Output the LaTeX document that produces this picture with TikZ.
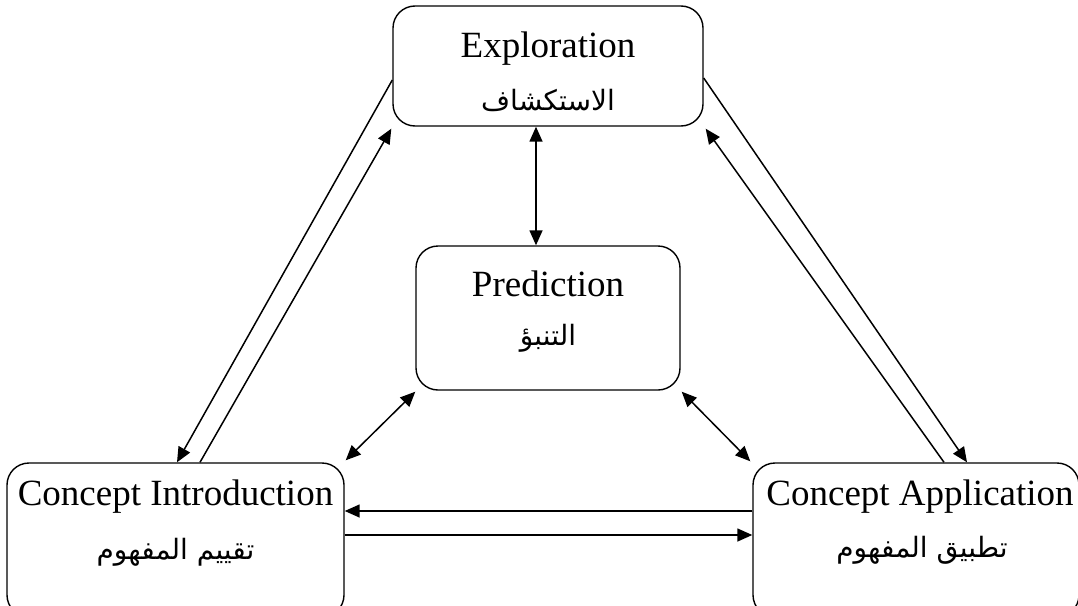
\documentclass[tikz,border=0pt]{standalone}
\usepackage{fontspec}
\setmainfont{Liberation Serif}
\newfontfamily\arabicfont[Script=Arabic]{DejaVu Sans}
\TeXXeTstate=1
\usetikzlibrary{arrows.meta,calc}
\begin{document}
\begin{tikzpicture}[x=1pt,y=-1pt,
  box/.style={draw,line width=1.4pt,rounded corners=22pt,inner sep=0pt},
  conn/.style={line width=1.5pt},
  tip/.style={-{Triangle[length=15pt,width=13pt]}},
  both/.style={{Triangle[length=15pt,width=13pt]}-{Triangle[length=15pt,width=13pt]}},
  en/.style={font=\fontsize{37}{44}\selectfont,anchor=base,inner sep=0pt},
  ar/.style={font=\arabicfont\fontsize{28}{33}\selectfont,inner sep=0pt}]
\useasboundingbox (0,0) rectangle (1078,605);
\clip (0,0) rectangle (1078,605);
% boxes
\node[box,minimum width=310pt,minimum height=120pt] (exp) at (548,66) {};
\node[box,minimum width=264pt,minimum height=144pt] (pred) at (548,318) {};
\node[box,minimum width=337pt,minimum height=154pt] (intro) at (175.5,540) {};
\node[box,minimum width=326pt,minimum height=154pt] (app) at (916,540) {};
% texts
\node[en] (expT) at (548,57) {Exploration};
\node[ar] (expA) at (548,100) {\beginR الاستكشاف\endR};
\node[en] (predT) at (548,296) {Prediction};
\node[ar] (predA) at (548,338) {\beginR التنبؤ\endR};
\node[en] (introT) at (175.5,505) {Concept Introduction};
\node[ar] (introA) at (175.5,552) {\beginR تقييم المفهوم\endR};
\node[en] (appT) at (920,505) {Concept Application};
\node[ar] (appA) at (922,550) {\beginR تطبيق المفهوم\endR};
% connectors
\draw[conn,tip] ([yshift=-14pt]exp.west) -- ([xshift=1.5pt]intro.north);
\draw[conn,tip] ([xshift=24.5pt]intro.north) -- ([shift={(-1pt,-2pt)}]exp.south west);
\draw[conn,tip] ([yshift=-12pt]exp.east) -- ([xshift=51pt]app.north);
\draw[conn,tip] ([xshift=28pt]app.north) -- ([shift={(2pt,-2pt)}]exp.south east);
\draw[conn,both] ([xshift=-12pt]exp.south) -- ([xshift=-12pt]pred.north);
\draw[conn,both] ([shift={(0pt,-1pt)}]pred.south west) -- ([shift={(1pt,2pt)}]intro.north east);
\draw[conn,both] ([shift={(1pt,-1pt)}]pred.south east) -- ([shift={(-2pt,1pt)}]app.north west);
\draw[conn,tip] ([yshift=29pt]app.west) -- ([yshift=29pt]intro.east);
\draw[conn,tip] ([yshift=5pt]intro.east) -- ([yshift=5pt]app.west);
\end{tikzpicture}
\end{document}
